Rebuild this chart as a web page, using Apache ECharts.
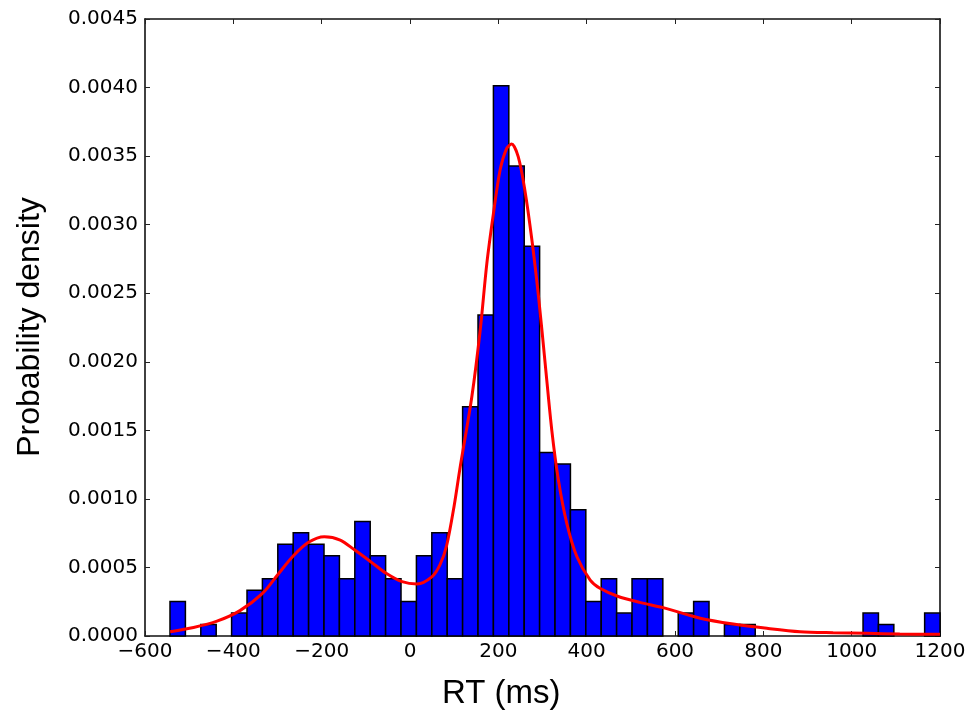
<!DOCTYPE html>
<html>
<head>
<meta charset="utf-8">
<script src="https://cdn.jsdelivr.net/npm/echarts@6/dist/echarts.min.js"></script>
<style>
html,body{margin:0;padding:0;background:#fff;}
#chart{width:970px;height:716px;}
</style>
</head>
<body>
<div id="chart"></div>
<script>
// Histogram bins (50 equal-width bins)
var binStart = -543.4;
var binWidth = 34.87;
var binDensity = [
  0.000251, 0, 0.0000836, 0, 0.000167, 0.000334, 0.000418, 0.000669, 0.000753, 0.000669,
  0.000585, 0.000418, 0.000836, 0.000585, 0.000418, 0.000251, 0.000585, 0.000753, 0.000418, 0.001672,
  0.002341, 0.004013, 0.003428, 0.002843, 0.001338, 0.001254, 0.00092, 0.000251, 0.000418, 0.000167,
  0.000418, 0.000418, 0, 0.000167, 0.000251, 0, 0.0000836, 0.0000836, 0, 0,
  0, 0, 0, 0, 0, 0.000167, 0.0000836, 0, 0, 0.000167
];
// Kernel density curve
var kdeX = [-543, -490, -437, -385, -334, -300, -264, -229, -194, -158, -125, -89, -54, -18, 16, 50, 68, 83, 100, 113, 140, 159, 174, 189, 204, 219, 230, 245, 260, 276, 291, 306, 321, 336, 355, 378, 408, 430, 470, 520, 575, 657, 732, 808, 883, 958, 1034, 1109, 1200];
var kdeY = [0.000031, 0.000062, 0.000108, 0.000185, 0.000311, 0.000445, 0.000585, 0.000685, 0.000724, 0.000700, 0.000627, 0.000542, 0.000457, 0.000396, 0.000379, 0.000433, 0.000520, 0.000660, 0.000950, 0.00122, 0.001745, 0.002232, 0.002718, 0.003083, 0.003399, 0.003557, 0.003588, 0.003496, 0.003253, 0.002888, 0.002475, 0.001989, 0.001502, 0.001138, 0.000822, 0.000578, 0.000408, 0.000348, 0.00029, 0.000245, 0.000205, 0.00013, 0.0000875, 0.0000562, 0.0000314, 0.000024, 0.00002, 0.0000146, 0.000012];
// Axes
var xTicks = [-600, -400, -200, 0, 200, 400, 600, 800, 1000, 1200];
var yTicks = [0, 0.0005, 0.001, 0.0015, 0.002, 0.0025, 0.003, 0.0035, 0.004, 0.0045];
var xTitle = 'RT (ms)';
var yTitle = 'Probability density';

var histData = binDensity.map(function (d, i) {
  return [binStart + i * binWidth, binStart + (i + 1) * binWidth, d];
});
var kdeData = kdeX.map(function (x, i) { return [x, kdeY[i]]; });

var chart = echarts.init(document.getElementById('chart'), null, {renderer: 'canvas'});
var labelFont = {color: '#000', fontFamily: 'DejaVu Sans', fontSize: 20};
var lineStyle = {color: '#111', width: 1.6};
var tickStyle = {show: true, inside: true, length: 5, lineStyle: {color: '#222', width: 1}};

chart.setOption({
  animation: false,
  backgroundColor: '#fff',
  grid: {left: 145, right: 30, top: 19, bottom: 80, containLabel: false},
  xAxis: [{
    type: 'value', min: xTicks[0], max: xTicks[xTicks.length - 1], interval: 200,
    position: 'bottom',
    axisLine: {show: true, onZero: false, lineStyle: lineStyle},
    axisTick: tickStyle,
    splitLine: {show: false},
    axisLabel: Object.assign({margin: 6, formatter: function (v) {
      return v < 0 ? '\u2212' + Math.abs(v) : String(v);
    }}, labelFont)
  }, {
    type: 'value', min: xTicks[0], max: xTicks[xTicks.length - 1], interval: 200,
    position: 'top',
    axisLine: {show: true, onZero: false, lineStyle: lineStyle},
    axisTick: tickStyle,
    splitLine: {show: false},
    axisLabel: {show: false}
  }],
  yAxis: [{
    type: 'value', min: 0, max: yTicks[yTicks.length - 1], interval: 0.0005,
    position: 'left',
    axisLine: {show: true, onZero: false, lineStyle: lineStyle},
    axisTick: tickStyle,
    splitLine: {show: false},
    axisLabel: Object.assign({margin: 7, formatter: function (v) { return v.toFixed(4); }}, labelFont)
  }, {
    type: 'value', min: 0, max: yTicks[yTicks.length - 1], interval: 0.0005,
    position: 'right',
    axisLine: {show: true, onZero: false, lineStyle: lineStyle},
    axisTick: tickStyle,
    splitLine: {show: false},
    axisLabel: {show: false}
  }],
  series: [{
    type: 'custom',
    xAxisIndex: 0, yAxisIndex: 0,
    renderItem: function (params, api) {
      var p0 = api.coord([api.value(0), api.value(2)]);
      var p1 = api.coord([api.value(1), 0]);
      if (api.value(2) <= 0) return null;
      return {
        type: 'rect',
        shape: {x: p0[0], y: p0[1], width: p1[0] - p0[0], height: p1[1] - p0[1]},
        style: {fill: '#0000ff', stroke: '#000', lineWidth: 1.5}
      };
    },
    encode: {x: [0, 1], y: 2},
    data: histData,
    z: 2
  }, {
    type: 'line',
    xAxisIndex: 0, yAxisIndex: 0,
    data: kdeData,
    smooth: 0.3,
    showSymbol: false,
    symbol: 'none',
    lineStyle: {color: '#ff0000', width: 3},
    z: 3
  }],
  graphic: [{
    type: 'text', left: 503 - 61, top: 677,
    style: {text: xTitle, fontFamily: 'Liberation Sans', fontSize: 33, fill: '#000'}
  }, {
    type: 'text', x: 30, y: 327, rotation: Math.PI / 2,
    style: {text: yTitle, fontFamily: 'Liberation Sans', fontSize: 32, fill: '#000', align: 'center', verticalAlign: 'middle'}
  }]
});
</script>
</body>
</html>
